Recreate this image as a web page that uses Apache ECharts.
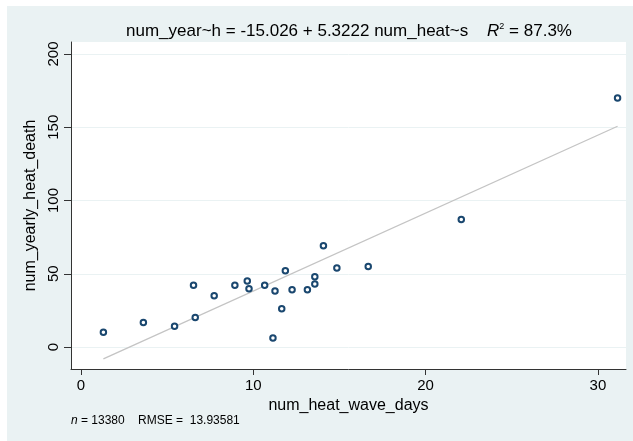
<!DOCTYPE html>
<html>
<head>
<meta charset="utf-8">
<script src="https://cdn.jsdelivr.net/npm/echarts@6/dist/echarts.min.js"></script>
<style>
html,body{margin:0;padding:0;background:#fff;}
#c{width:633px;height:441px;}
</style>
</head>
<body>
<div id="c"></div>
<script>
// Observed scatter points (num_heat_wave_days, num_yearly_heat_death)
const heatWaveDays = [1.30, 3.62, 5.43, 6.53, 6.63, 7.73, 8.93, 9.65, 9.75, 10.66, 11.14, 11.26, 11.65, 11.86, 12.25, 13.14, 13.57, 13.57, 14.07, 14.85, 16.67, 22.07, 31.14];
const yearlyHeatDeath = [10.0, 16.8, 14.1, 42.1, 20.2, 35.0, 42.1, 45.0, 39.8, 42.1, 6.1, 38.2, 26.1, 52.0, 39.1, 39.1, 43.0, 47.9, 69.1, 53.9, 55.0, 87.1, 170.0];
// Fitted line endpoints
const fitX = [1.30, 31.14];
const fitY = [-8.1, 150.7];
// Tick labels
const xTicks = [0, 10, 20, 30];
const yTicks = [0, 50, 100, 150, 200];

const scatterData = heatWaveDays.map((x, i) => [x, yearlyHeatDeath[i]]);
const fitData = fitX.map((x, i) => [x, fitY[i]]);

const FONT = '"Liberation Sans", Arial, sans-serif';
const chart = echarts.init(document.getElementById('c'), null, {renderer: 'canvas'});
chart.setOption({
  animation: false,
  backgroundColor: '#ffffff',
  graphic: [
    {type: 'rect', z: -100, silent: true, shape: {x: 7, y: 6, width: 626, height: 435}, style: {fill: '#eaf2f3'}},
    {type: 'text', x: 349, y: 31, silent: true, style: {
      text: '{a|num_year~h = -15.026 + 5.3222 num_heat~s    }{r|R}{s|2}{a| = 87.3%}',
      align: 'center', verticalAlign: 'middle',
      rich: {
        a: {fontFamily: FONT, fontSize: 17, color: '#000'},
        r: {fontFamily: FONT, fontSize: 17, fontStyle: 'italic', color: '#000'},
        s: {fontFamily: FONT, fontSize: 9, color: '#000', verticalAlign: 'top', padding: [0, 0, 9, 0]}
      }
    }},
    {type: 'text', x: 71, y: 421, silent: true, style: {
      text: '{i|n}{a| = 13380    RMSE =  13.93581}',
      align: 'left', verticalAlign: 'middle',
      rich: {
        i: {fontFamily: FONT, fontSize: 12, fontStyle: 'italic', color: '#000'},
        a: {fontFamily: FONT, fontSize: 12, color: '#000'}
      }
    }}
  ],
  grid: {left: 71, top: 42, right: 7, bottom: 72, show: true, backgroundColor: '#ffffff', borderWidth: 0},
  xAxis: {
    type: 'value', min: -0.58, max: 31.63,
    name: 'num_heat_wave_days', nameLocation: 'middle', nameGap: 24,
    nameTextStyle: {fontFamily: FONT, fontSize: 16, color: '#000'},
    axisLine: {show: true, onZero: false, lineStyle: {color: '#333', width: 1}},
    axisTick: {show: true, length: 6, customValues: xTicks, lineStyle: {color: '#333'}},
    axisLabel: {customValues: xTicks, fontFamily: FONT, fontSize: 15, color: '#000', margin: 9},
    splitLine: {show: false}
  },
  yAxis: {
    type: 'value', min: -15, max: 208.2,
    name: 'num_yearly_heat_death', nameLocation: 'middle', nameGap: 27, nameRotate: 90,
    nameTextStyle: {fontFamily: FONT, fontSize: 16, color: '#000'},
    axisLine: {show: true, onZero: false, lineStyle: {color: '#333', width: 1}},
    axisTick: {show: true, length: 7, customValues: yTicks, lineStyle: {color: '#333'}},
    axisLabel: {customValues: yTicks, rotate: 90, fontFamily: FONT, fontSize: 15, color: '#000', margin: 10},
    splitLine: {show: true, lineStyle: {color: '#eaf2f3', width: 1}}
  },
  series: [
    {type: 'line', data: fitData, symbol: 'none', z: 1, silent: true,
     lineStyle: {color: '#c4c4c4', width: 1.3}},
    {type: 'scatter', data: scatterData, symbol: 'circle', symbolSize: 5.5, z: 2,
     itemStyle: {color: '#ffffff', borderColor: '#1a476f', borderWidth: 2, opacity: 1}}
  ]
});
</script>
</body>
</html>
